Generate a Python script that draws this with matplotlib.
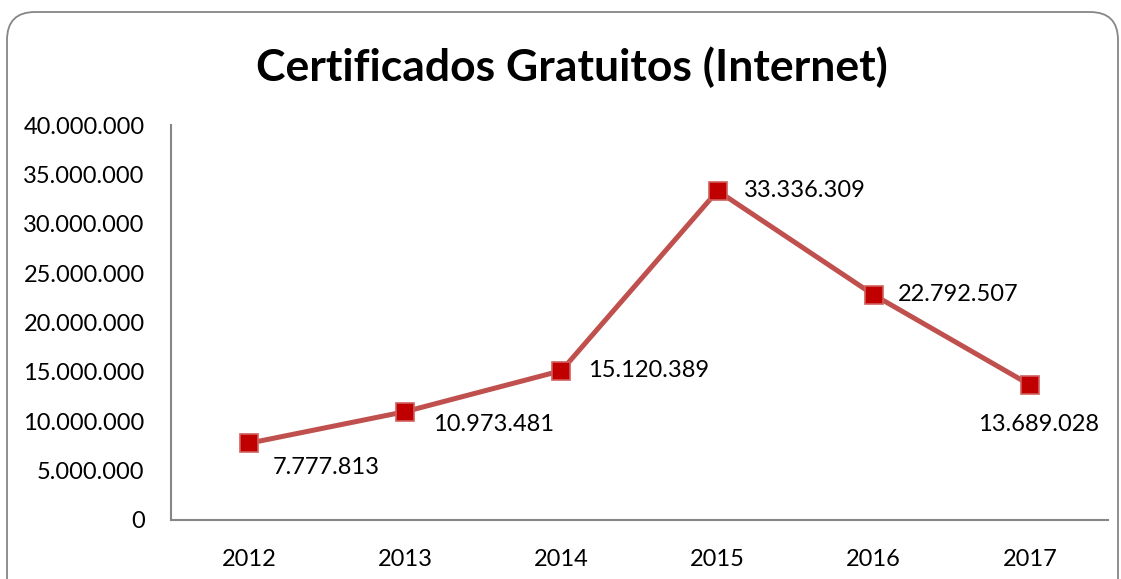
import matplotlib
matplotlib.use("Agg")
import matplotlib.pyplot as plt
from matplotlib.patches import FancyBboxPatch

years = ["2012", "2013", "2014", "2015", "2016", "2017"]
certificados = [7777813, 10973481, 15120389, 33336309, 22792507, 13689028]
labels = ["7.777.813", "10.973.481", "15.120.389", "33.336.309", "22.792.507", "13.689.028"]
y_ticks = [0, 5000000, 10000000, 15000000, 20000000, 25000000, 30000000, 35000000, 40000000]

# label offsets in pixels, like the hand placed Excel data labels
label_offsets = [(24, -24, "left"), (28, -13, "left"), (27, 0, "left"),
                 (26, 0, "left"), (24, 0, "left"), (9, -40, "center")]

plt.rcParams["font.family"] = ["Lato", "DejaVu Sans"]

fig = plt.figure(figsize=(11.21, 5.79), dpi=100)

# rounded chart frame
frame = FancyBboxPatch((7 / 1121, -0.2), (1118 - 7) / 1121, 1.2 - 12 / 579,
                       boxstyle="round,pad=0,rounding_size=0.025",
                       transform=fig.transFigure, facecolor="white",
                       edgecolor="#868686", linewidth=1.3, mutation_aspect=1121 / 579,
                       zorder=-5)
fig.patches.append(frame)

ax = fig.add_axes([171 / 1121, 1 - 520 / 579, (1108 - 171) / 1121, (520 - 125) / 579])
ax.set_facecolor("none")

x = list(range(len(years)))
ax.plot(x, certificados, color="#C0504D", linewidth=3.6, marker="s", markersize=13,
        markerfacecolor="#C00000", markeredgecolor="#D0605D", markeredgewidth=1.2, zorder=3)

for i, val in enumerate(certificados):
    dx, dy, ha = label_offsets[i]
    ax.annotate(labels[i], (i, val), xytext=(dx, dy), textcoords="offset pixels",
                ha=ha, va="center", fontsize=17, color="black")

ax.set_xlim(-0.5, len(years) - 0.5)
ax.set_ylim(0, 40000000)
ax.set_xticks(x)
ax.set_xticklabels(years)
ax.set_yticks(y_ticks)
ax.set_yticklabels([f"{v:,}".replace(",", ".") for v in y_ticks])
ax.tick_params(length=0, labelsize=17, pad=19)
ax.tick_params(axis="x", pad=21)

for side in ["top", "right"]:
    ax.spines[side].set_visible(False)
for side in ["left", "bottom"]:
    ax.spines[side].set_color("#868686")
    ax.spines[side].set_linewidth(1.5)

fig.text(572 / 1121, 1 - 67 / 579, "Certificados Gratuitos (Internet)",
         ha="center", va="center", fontsize=32, fontweight="bold")

fig.savefig("out.png", dpi=100)
